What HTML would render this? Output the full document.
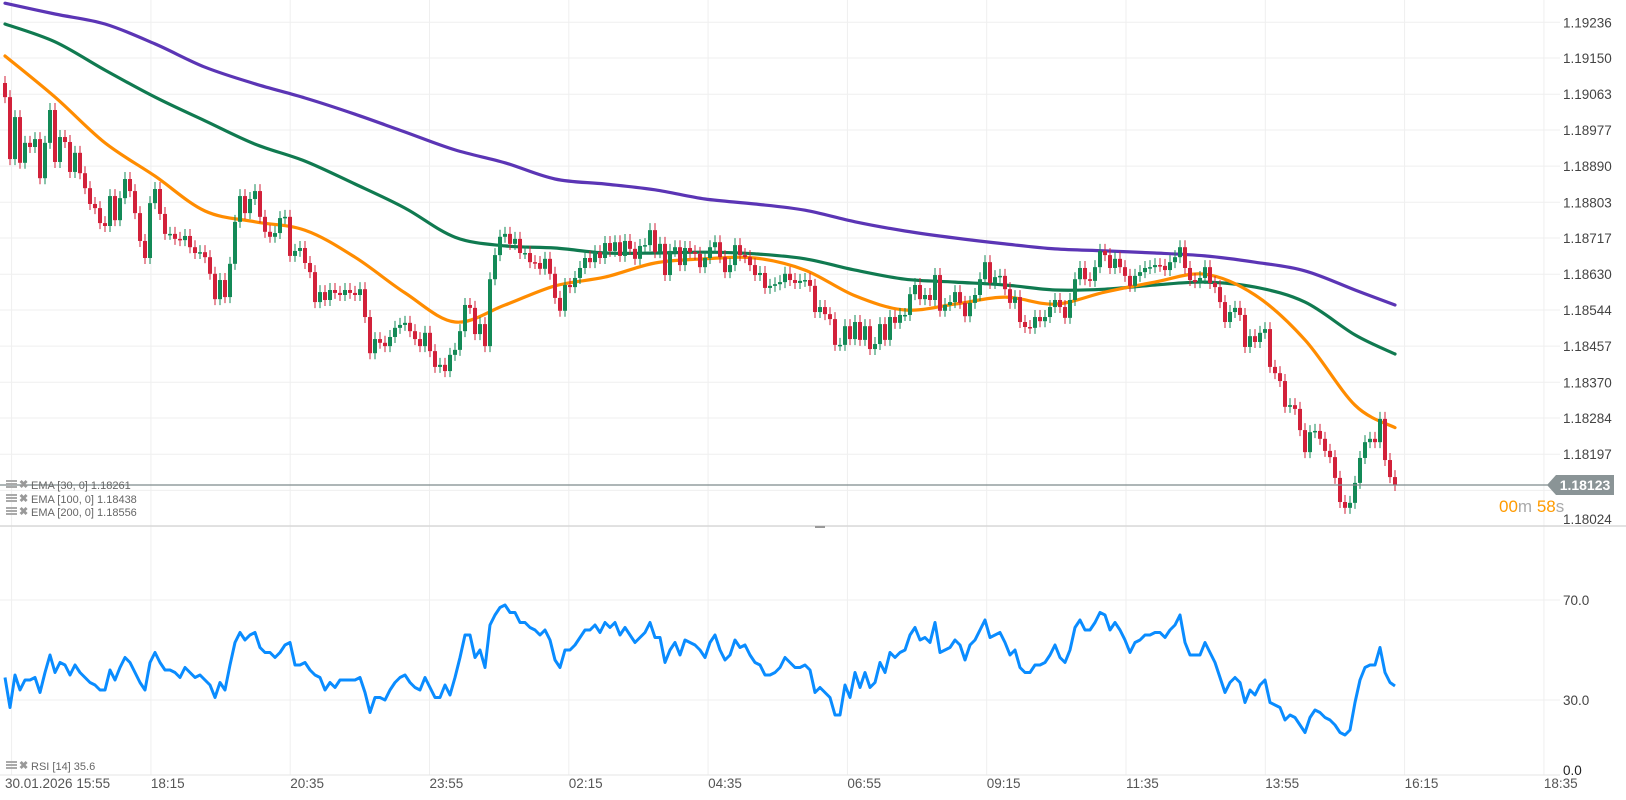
<!DOCTYPE html>
<html><head><meta charset="utf-8"><title>EURUSD chart</title>
<style>
html,body{margin:0;padding:0;background:#fff;}
svg{display:block;font-family:"Liberation Sans",Arial,sans-serif;}
</style></head>
<body>
<svg id="chart" width="1626" height="800" viewBox="0 0 1626 800" xmlns="http://www.w3.org/2000/svg">
<g id="grid"></g>
<g id="ema"></g>
<g id="candles"></g>
<g id="rsi"></g>
<g id="axes"></g>
<g id="overlay"></g>
</svg>
<script>
// ---- data (prices expressed as points of 0.00001 above PRICE_BASE) ----
const PRICE_BASE = 1.18000;
const firstOpenPts = 1090;
const closePts = [1056,907,1008,898,946,936,955,861,946,1025,900,960,948,876,922,873,837,799,789,753,746,818,760,813,859,830,777,710,669,801,835,775,727,727,715,712,722,695,681,683,671,631,570,616,575,655,756,818,777,811,830,768,732,720,729,765,768,674,686,693,657,635,563,587,568,592,585,580,592,585,580,594,527,440,474,465,457,479,501,508,513,493,474,457,489,445,407,412,397,436,448,493,556,549,486,510,457,618,676,720,727,703,715,681,681,659,657,643,667,631,573,542,604,599,621,645,669,659,683,669,705,686,707,674,710,691,667,698,700,736,683,703,628,686,695,652,693,683,679,647,669,695,707,671,635,652,700,676,671,652,628,633,597,602,606,611,631,616,609,614,616,602,539,551,534,522,460,460,505,474,515,472,505,450,462,510,472,527,513,532,532,582,604,570,580,568,628,542,556,563,587,561,529,561,580,618,659,609,623,626,594,561,575,515,503,501,527,517,527,551,568,551,525,568,618,645,618,614,647,686,676,645,667,647,626,602,626,635,645,647,652,650,640,659,671,695,645,616,611,621,647,609,599,563,515,539,549,532,455,481,467,489,498,407,392,373,311,315,306,255,202,250,253,234,205,190,140,82,68,80,128,188,226,234,226,282,183,142,123];
const emaStep = 10;
const ema30Pts = [1155,1056,946,866,782,756,736,671,585,515,556,602,623,657,667,669,640,578,544,558,575,558,587,611,630,580,472,315,261];
const ema100Pts = [1232,1189,1121,1056,999,943,902,847,789,719,698,693,681,681,683,679,667,640,618,611,604,592,594,604,611,599,563,484,438];
const ema200Pts = [1282,1256,1232,1184,1128,1088,1054,1015,972,929,898,859,847,833,811,799,784,756,734,717,703,691,686,681,674,659,638,592,556];
const rsiValues = [39,27,40,34,38,38,39,33,41,48,41,45,44,40,44,41,39,37,36,34,34,42,38,43,47,45,41,37,34,45,49,45,42,42,41,39,43,41,39,40,38,36,31,37,34,44,53,57,54,56,57,51,49,49,47,49,52,53,44,44,45,42,40,39,34,37,35,38,38,38,38,39,33,25,31,31,30,34,37,39,40,37,35,34,39,35,31,31,36,32,39,47,56,56,47,50,43,60,64,67,68,65,65,61,61,59,58,56,58,54,46,43,50,50,52,55,58,58,60,57,61,59,61,56,59,56,53,55,57,61,55,55,45,50,53,48,54,53,52,50,47,53,56,50,46,48,54,51,52,48,45,44,40,40,41,43,47,45,43,43,44,42,33,35,33,31,24,24,36,31,41,35,41,35,37,45,41,49,47,49,50,56,59,54,55,53,61,49,50,51,54,52,46,52,54,58,62,55,56,57,53,48,50,43,41,41,44,44,45,48,52,47,45,50,59,62,58,58,61,65,64,58,61,58,54,49,53,54,56,56,57,57,55,58,60,64,53,48,48,48,53,49,45,39,33,37,39,37,29,34,32,36,38,29,28,27,22,24,23,20,17,23,26,25,23,22,20,17,16,18,29,38,43,44,44,51,41,37,35.6];
const priceTicks = ["1.19236","1.19150","1.19063","1.18977","1.18890","1.18803","1.18717","1.18630","1.18544","1.18457","1.18370","1.18284","1.18197","1.18024"];
const rsiTicks = [70,30,0];
const timeTicks = ["30.01.2026 15:55","18:15","20:35","23:55","02:15","04:35","06:55","09:15","11:35","13:55","16:15","18:35"];

// ---- scales ----
const NS = "http://www.w3.org/2000/svg";
const TOP_PRICE = 1.19236, TOP_Y = 22.3, PX_PER_UNIT = 41570;
const priceY = p => TOP_Y + (TOP_PRICE - p) * PX_PER_UNIT;
const ptsY = v => priceY(PRICE_BASE + v / 100000);
const xOf = i => 5 + 5 * i;
const rsiY = v => 775 - v * 2.5;
const GRID_X0 = 11.6, GRID_DX = 139.3;

function mk(tag, attrs, parent){
  const el = document.createElementNS(NS, tag);
  for (const k in attrs) el.setAttribute(k, attrs[k]);
  parent.appendChild(el);
  return el;
}
const gGrid = document.getElementById('grid');
const gEma = document.getElementById('ema');
const gC = document.getElementById('candles');
const gR = document.getElementById('rsi');
const gA = document.getElementById('axes');
const gO = document.getElementById('overlay');

// grid
for (let k = 0; k < 12; k++) {
  const x = GRID_X0 + k * GRID_DX;
  const l = mk('line', {x1:x, y1:0, x2:x, y2:775, stroke:'#efefef', 'stroke-width':1}, gGrid);
  
  
}
priceTicks.forEach((t) => {
  const y = priceY(parseFloat(t));
  const l = mk('line', {x1:0, y1:y, x2:1560, y2:y, stroke:'#efefef', 'stroke-width':1}, gGrid);
  
  
  const tx = mk('text', {x:1563, y:Math.min(y, 519) + 5, 'font-size':13.5, fill:'#444'}, gA);
  tx.textContent = t;
  
  
});
{
  const y = priceY(1.18110);
  const l = mk('line', {x1:0, y1:y, x2:1560, y2:y, stroke:'#efefef', 'stroke-width':1}, gGrid);
  
  
}
rsiTicks.forEach(v => {
  const y = rsiY(v);
  const l = mk('line', {x1:0, y1:y, x2:1560, y2:y, stroke: v === 0 ? '#e6e6e6' : '#efefef', 'stroke-width':1}, gGrid);
  
  
  const tx = mk('text', {x:1563, y:(v === 0 ? y - 5 : y) + 5, 'font-size':13.5, fill: v === 0 ? '#222' : '#444'}, gA);
  tx.textContent = v.toFixed(1);
  
  
});
timeTicks.forEach((t, k) => {
  const x = k === 0 ? 5 : GRID_X0 + k * GRID_DX;
  const tx = mk('text', {x:x, y:788, 'font-size':13.5, fill:'#555'}, gA);
  tx.textContent = t;
  
  
});

// panel separator
{
  const l = mk('line', {x1:0, y1:526, x2:1626, y2:526, stroke:'#d8d8d8', 'stroke-width':1.5}, gA);
  
  
  const h = mk('rect', {x:815, y:526, width:10, height:2, fill:'#999'}, gA);
  
  
}

// EMA lines (smoothed Catmull-Rom through data points)
function emaLine(arr, color, name){
  const P = arr.map((v, j) => [xOf(Math.min(j * emaStep, closePts.length - 1)), ptsY(v)]);
  let d = 'M' + P[0][0].toFixed(1) + ',' + P[0][1].toFixed(1);
  for (let i = 0; i < P.length - 1; i++) {
    const p0 = P[Math.max(0, i - 1)], p1 = P[i], p2 = P[i + 1], p3 = P[Math.min(P.length - 1, i + 2)];
    const c1 = [p1[0] + (p2[0] - p0[0]) / 6, p1[1] + (p2[1] - p0[1]) / 6];
    const c2 = [p2[0] - (p3[0] - p1[0]) / 6, p2[1] - (p3[1] - p1[1]) / 6];
    d += ' C' + c1[0].toFixed(1) + ',' + c1[1].toFixed(1) + ' ' + c2[0].toFixed(1) + ',' + c2[1].toFixed(1) + ' ' + p2[0].toFixed(1) + ',' + p2[1].toFixed(1);
  }
  const pl = mk('path', {d:d, fill:'none', stroke:color, 'stroke-width':3.2, 'stroke-linejoin':'round', 'stroke-linecap':'round'}, gEma);
  
  
}
emaLine(ema200Pts, '#5b35b5', 'ema-200-line');
emaLine(ema100Pts, '#107a50', 'ema-100-line');
emaLine(ema30Pts, '#ff8c00', 'ema-30-line');

// candles
closePts.forEach((c, i) => {
  const o = i === 0 ? firstOpenPts : closePts[i - 1];
  const up = c >= o;
  const col = up ? '#138a57' : '#d2213a';
  const yo = ptsY(o), yc = ptsY(c);
  const top = Math.min(yo, yc), bot = Math.max(yo, yc);
  const x = xOf(i);
  const w = mk('line', {x1:x, y1:top - 7, x2:x, y2:bot + 6, stroke:col, 'stroke-width':1}, gC);
  
  
  const b = mk('rect', {x:x - 2, y:top, width:4, height:Math.max(1.5, bot - top), fill:col}, gC);
  
  
});

// RSI line
{
  const pts = rsiValues.map((v, i) => xOf(i).toFixed(1) + ',' + rsiY(v).toFixed(1)).join(' ');
  const pl = mk('polyline', {points:pts, fill:'none', stroke:'#0a8cff', 'stroke-width':3, 'stroke-linejoin':'round'}, gR);
  
  
}

// current price line + label
const lastPts = closePts[closePts.length - 1];
const lastY = ptsY(lastPts);
{
  const l = mk('line', {x1:0, y1:lastY, x2:1556, y2:lastY, stroke:'#7e8a8c', 'stroke-width':1.3}, gO);
  
  
  const p = mk('polygon', {points:`1547,${lastY} 1556,${lastY-10} 1614,${lastY-10} 1614,${lastY+10} 1556,${lastY+10}`, fill:'#8a9496'}, gO);
  
  
  const t = mk('text', {x:1585, y:lastY + 5, 'font-size':14, 'font-weight':'bold', fill:'#fff', 'text-anchor':'middle'}, gO);
  t.textContent = (PRICE_BASE + lastPts / 100000).toFixed(5);
  
  
}
// countdown
{
  const t = mk('text', {x:1499, y:512, 'font-size':17}, gO);
  
  
  t.innerHTML = '<tspan fill="#ff9b00">00</tspan><tspan fill="#aaa">m </tspan><tspan fill="#ff9b00">58</tspan><tspan fill="#aaa">s</tspan>';
}

// legends
function legendRow(y, label, name){
  const g = mk('g', {}, gO);
  
  
  mk('rect', {x:6, y:y-8, width:11, height:2, fill:'#aaa'}, g);
  mk('rect', {x:6, y:y-5, width:11, height:2, fill:'#aaa'}, g);
  mk('rect', {x:6, y:y-2, width:11, height:2, fill:'#aaa'}, g);
  const x = mk('text', {x:19, y:y, 'font-size':11, fill:'#999', 'font-weight':'bold'}, g);
  x.textContent = '✖';
  const t = mk('text', {x:31, y:y + 1, 'font-size':11, fill:'#666'}, g);
  t.textContent = label;
}
const fmt = v => (PRICE_BASE + v / 100000).toFixed(5);
legendRow(488, 'EMA  [30,  0]  ' + fmt(ema30Pts[ema30Pts.length-1]), 'ema-30-legend');
legendRow(502, 'EMA  [100,  0]  ' + fmt(ema100Pts[ema100Pts.length-1]), 'ema-100-legend');
legendRow(515, 'EMA  [200,  0]  ' + fmt(ema200Pts[ema200Pts.length-1]), 'ema-200-legend');
legendRow(769, 'RSI  [14]  ' + rsiValues[rsiValues.length-1].toFixed(1), 'rsi-legend');
</script>
</body></html>
